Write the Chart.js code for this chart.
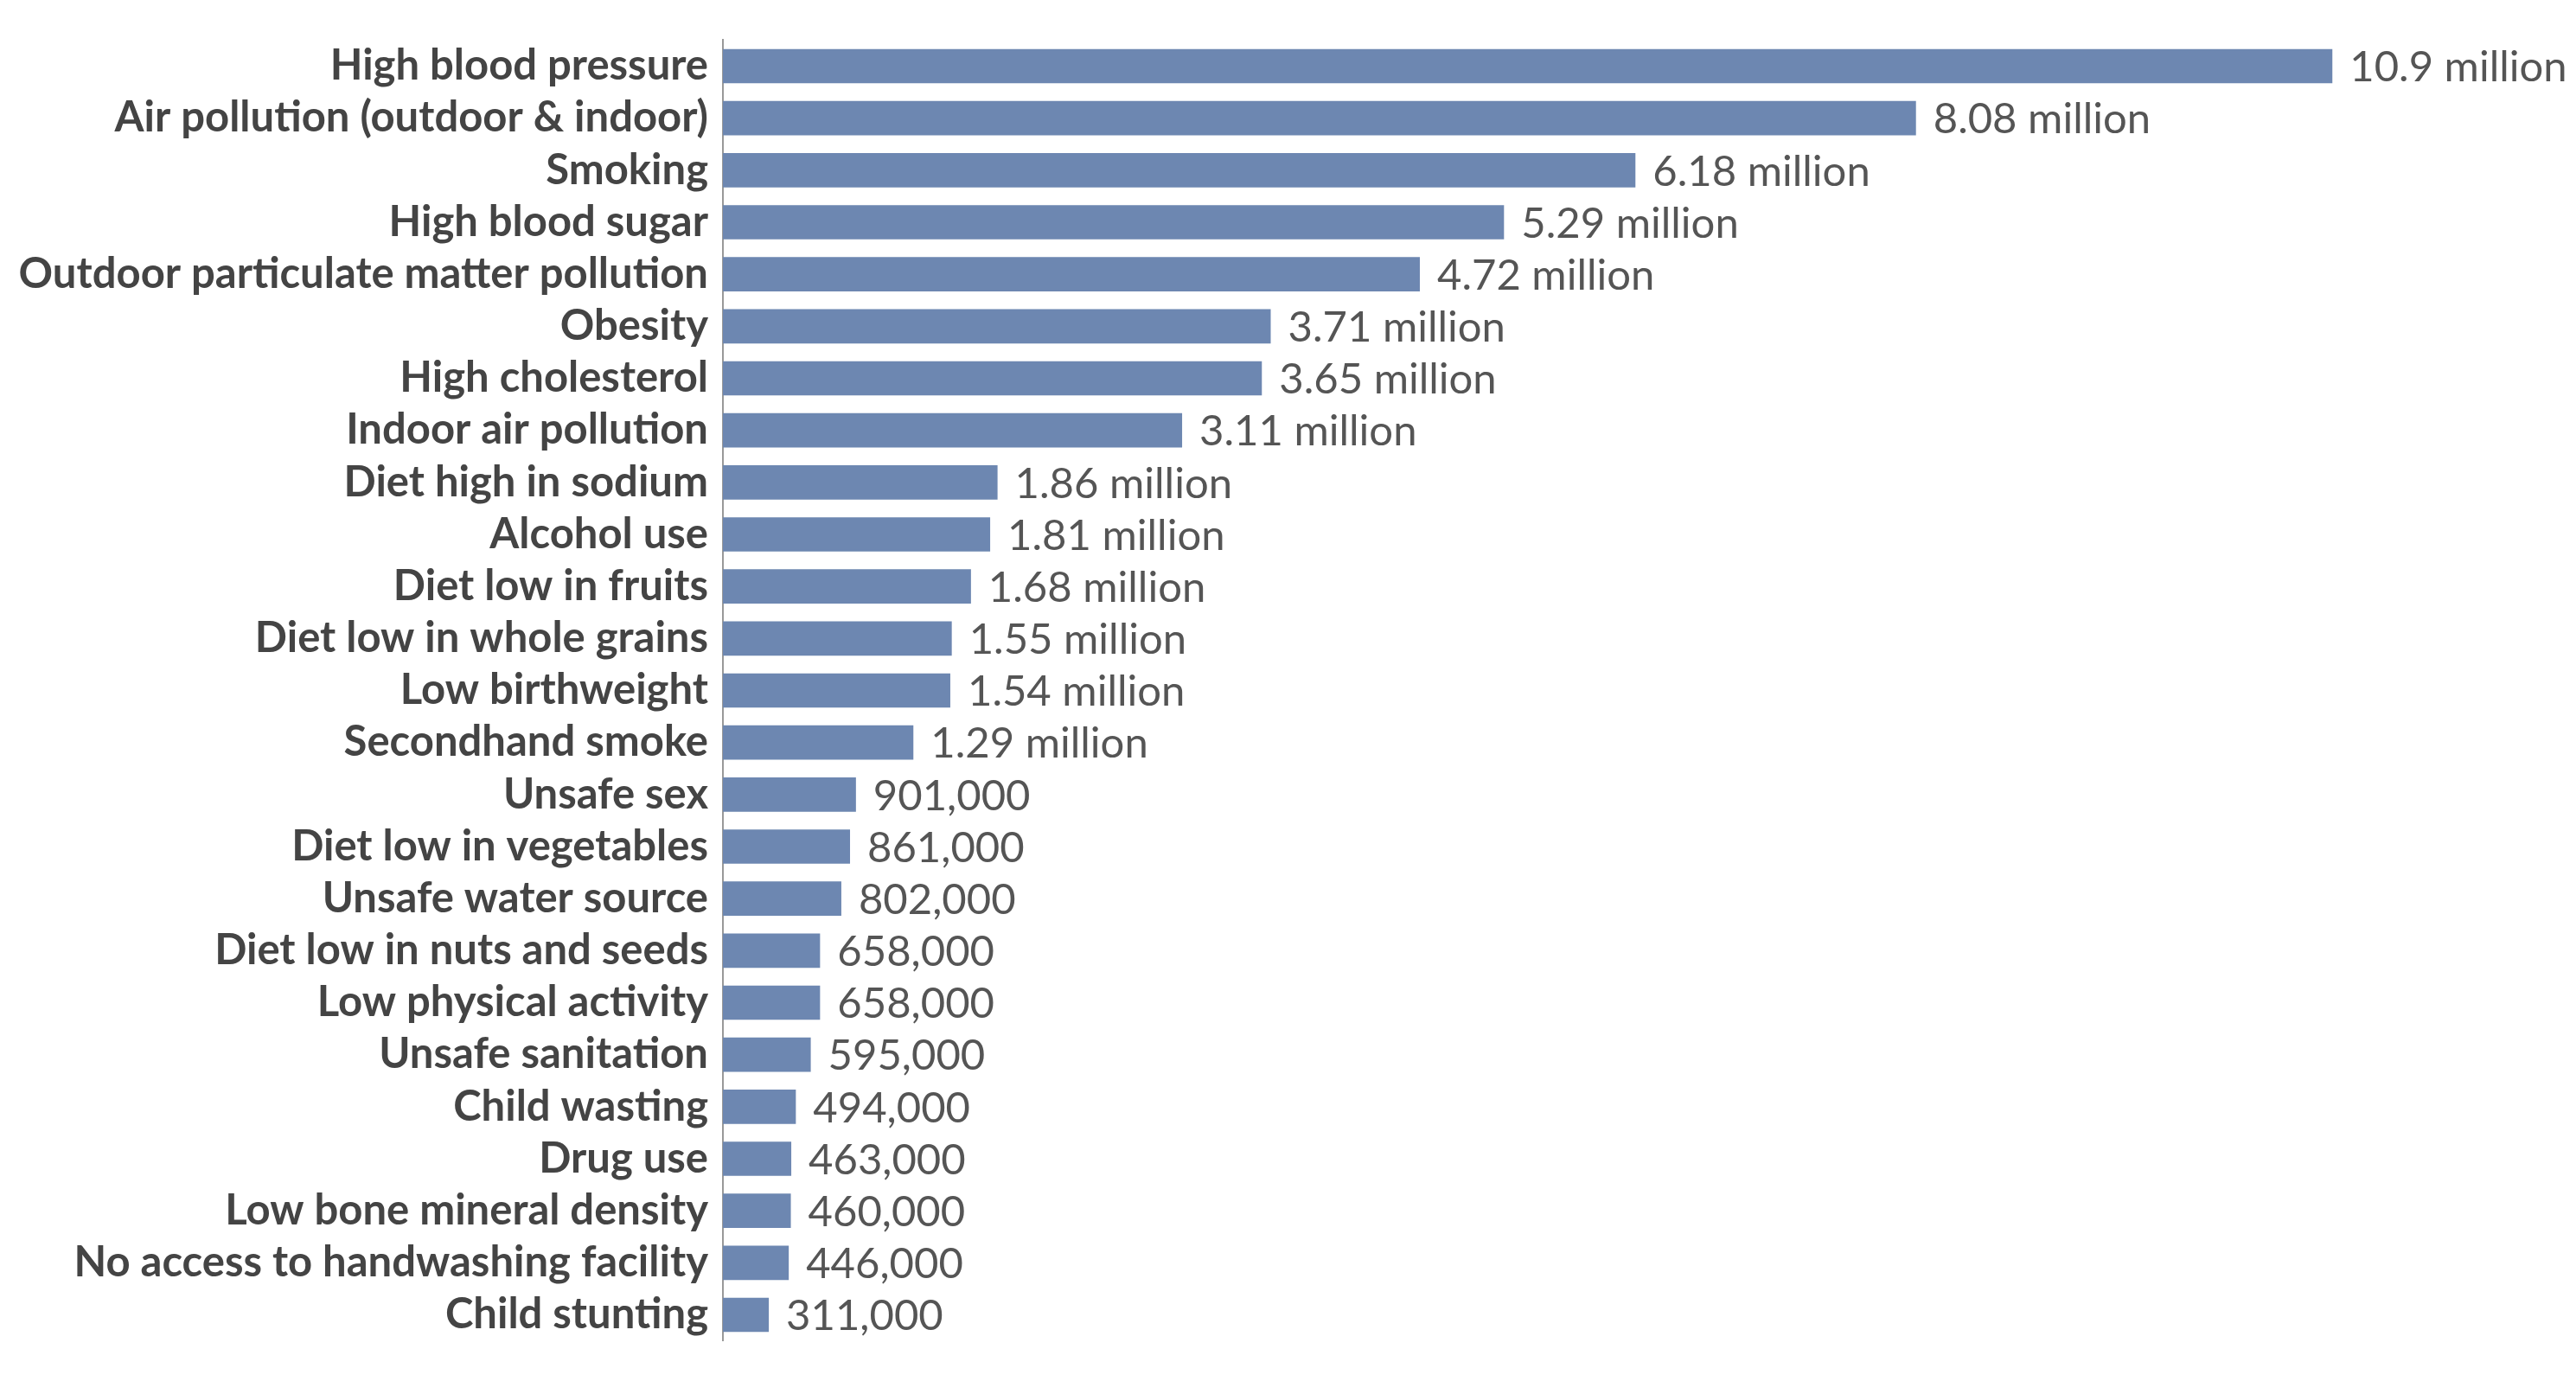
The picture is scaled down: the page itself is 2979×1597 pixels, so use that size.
<!DOCTYPE html>
<html><head><meta charset="utf-8">
<script src="https://cdn.jsdelivr.net/npm/chart.js@4"></script>
<style>html,body{margin:0;padding:0;background:#fff}#w{width:2979px;height:1597px}</style>
</head><body><div id="w"><canvas id="c" width="2979" height="1597"></canvas></div>
<script>
const categories = ["High blood pressure","Air pollution (outdoor & indoor)","Smoking","High blood sugar","Outdoor particulate matter pollution","Obesity","High cholesterol","Indoor air pollution","Diet high in sodium","Alcohol use","Diet low in fruits","Diet low in whole grains","Low birthweight","Secondhand smoke","Unsafe sex","Diet low in vegetables","Unsafe water source","Diet low in nuts and seeds","Low physical activity","Unsafe sanitation","Child wasting","Drug use","Low bone mineral density","No access to handwashing facility","Child stunting"];
const deaths = [10.9,8.08,6.18,5.29,4.72,3.71,3.65,3.11,1.86,1.81,1.68,1.55,1.54,1.29,0.901,0.861,0.802,0.658,0.658,0.595,0.494,0.463,0.460,0.446,0.311];
const valueLabels = ["10.9 million","8.08 million","6.18 million","5.29 million","4.72 million","3.71 million","3.65 million","3.11 million","1.86 million","1.81 million","1.68 million","1.55 million","1.54 million","1.29 million","901,000","861,000","802,000","658,000","658,000","595,000","494,000","463,000","460,000","446,000","311,000"];

const labelPlugin = {
  id:'vals',
  afterDatasetsDraw(chart){
    const ctx = chart.ctx;
    const meta = chart.getDatasetMeta(0);
    ctx.save();
    ctx.font = '49px Lato';
    ctx.fillStyle = '#555';
    ctx.textBaseline = 'middle';
    meta.data.forEach((b,i)=>{ ctx.fillText(valueLabels[i], b.x+20, b.y+2); });
    ctx.restore();
  }
};
new Chart(document.getElementById('c'),{
  type:'bar',
  data:{labels:categories,datasets:[{data:deaths,backgroundColor:'#6d87b1',barPercentage:0.66,categoryPercentage:1}]},
  options:{
    indexAxis:'y',responsive:false,devicePixelRatio:1,animation:false,
    layout:{padding:{top:-17,bottom:-23,left:0,right:0}},
    plugins:{legend:{display:false},tooltip:{enabled:false}},
    scales:{
      x:{display:false,min:0,max:12.55},
      y:{
        afterFit(s){s.width=836;},
        grid:{display:false,drawTicks:false},
        border:{display:true,color:'#999',width:2},
        ticks:{padding:17,color:'#444',font:{family:'Lato',weight:'bold',size:49}}
      }
    }
  },
  plugins:[labelPlugin]
});
</script></body></html>
